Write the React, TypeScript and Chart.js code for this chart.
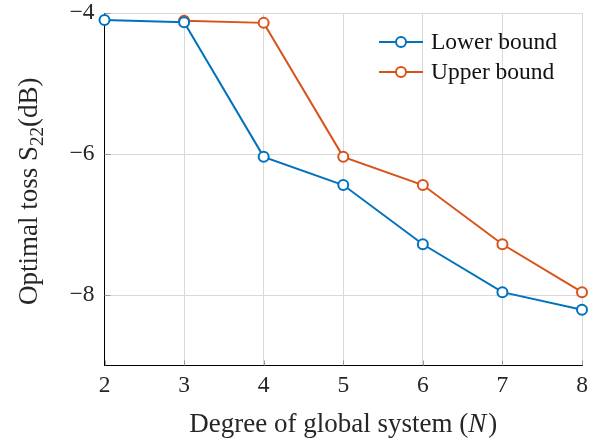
import React, { useEffect, useRef } from "react";
import { Chart, registerables } from "chart.js";

Chart.register(...registerables);

const lowerX = [2, 3, 4, 5, 6, 7, 8];
const lowerY = [-4.1, -4.13, -6.04, -6.44, -7.28, -7.96, -8.21];
const upperX = [3, 4, 5, 6, 7, 8];
const upperY = [-4.11, -4.14, -6.04, -6.44, -7.28, -7.96];
const xTicks = [2, 3, 4, 5, 6, 7, 8];
const yTicks = [-8, -6, -4];
const seriesNames = ["Lower bound", "Upper bound"];
const colors = ["#0072BD", "#D95319"];

const FONT = "'Liberation Serif'";
const TICK_SIZE = 23.5;
const LEGEND_SIZE = 23.5;
const TITLE_SIZE = 27;
const SUB_SIZE = 19;

const overlay = {
  id: "overlay",
  afterDraw(chart: any) {
    const ctx = chart.ctx as CanvasRenderingContext2D;
    const area = chart.chartArea;
    const xs = chart.scales.x;
    const ys = chart.scales.y;
    ctx.save();
    // inward ticks
    ctx.strokeStyle = "#9a9a9a";
    ctx.lineWidth = 1;
    for (const v of xTicks) {
      const px = Math.round(xs.getPixelForValue(v)) + 0.5;
      ctx.beginPath();
      ctx.moveTo(px, area.bottom);
      ctx.lineTo(px, area.bottom - 5);
      ctx.stroke();
    }
    for (const v of yTicks) {
      const py = Math.round(ys.getPixelForValue(v)) + 0.5;
      ctx.beginPath();
      ctx.moveTo(area.left, py);
      ctx.lineTo(area.left + 6, py);
      ctx.stroke();
    }
    // legend
    const lx = 379;
    const lyStart = 42;
    const gap = 30;
    ctx.font = `${LEGEND_SIZE}px ${FONT}`;
    ctx.textBaseline = "middle";
    ctx.textAlign = "left";
    seriesNames.forEach((name, i) => {
      const y = lyStart + i * gap;
      ctx.strokeStyle = colors[i];
      ctx.lineWidth = 2;
      ctx.beginPath();
      ctx.moveTo(lx, y);
      ctx.lineTo(lx + 44, y);
      ctx.stroke();
      ctx.beginPath();
      ctx.fillStyle = "#fff";
      ctx.arc(lx + 22, y, 5, 0, Math.PI * 2);
      ctx.fill();
      ctx.stroke();
      ctx.fillStyle = "#111";
      ctx.fillText(name, lx + 52, y + 1);
    });
    // x title
    ctx.textBaseline = "alphabetic";
    const cx = (area.left + area.right) / 2;
    const part1 = "Degree of global system (";
    const partN = "N";
    const part2 = ")";
    ctx.font = `${TITLE_SIZE}px ${FONT}`;
    const w1 = ctx.measureText(part1).width;
    const w2 = ctx.measureText(part2).width;
    ctx.font = `italic ${TITLE_SIZE}px ${FONT}`;
    const wN = ctx.measureText(partN).width;
    let sx = cx - (w1 + wN + w2 + 2) / 2;
    const by = 432;
    ctx.fillStyle = "#262626";
    ctx.font = `${TITLE_SIZE}px ${FONT}`;
    ctx.fillText(part1, sx, by);
    sx += w1;
    ctx.font = `italic ${TITLE_SIZE}px ${FONT}`;
    ctx.fillText(partN, sx, by);
    sx += wN + 2;
    ctx.font = `${TITLE_SIZE}px ${FONT}`;
    ctx.fillText(part2, sx, by);
    // y title
    const cy = (area.top + area.bottom) / 2 + 2;
    ctx.translate(37, cy);
    ctx.rotate(-Math.PI / 2);
    const t1 = "Optimal toss S";
    const sub = "22";
    const t2 = "(dB)";
    ctx.font = `${TITLE_SIZE}px ${FONT}`;
    const a1 = ctx.measureText(t1).width;
    const a2 = ctx.measureText(t2).width;
    ctx.font = `${SUB_SIZE}px ${FONT}`;
    const as = ctx.measureText(sub).width;
    let tx = -(a1 + as + a2) / 2;
    ctx.font = `${TITLE_SIZE}px ${FONT}`;
    ctx.fillText(t1, tx, 0);
    tx += a1;
    ctx.font = `${SUB_SIZE}px ${FONT}`;
    ctx.fillText(sub, tx, 6);
    tx += as;
    ctx.font = `${TITLE_SIZE}px ${FONT}`;
    ctx.fillText(t2, tx, 0);
    ctx.restore();
  },
};

export default function App() {
  const ref = useRef<HTMLCanvasElement>(null);
  useEffect(() => {
    document.body.style.margin = "0";
    const canvas = ref.current!;
    let chart: any = null;
    let cancelled = false;
    const build = () => {
      if (cancelled) return;
      chart = new Chart(canvas, {
        type: "line",
        data: {
          datasets: [
            {
              label: seriesNames[0],
              data: lowerX.map((x, i) => ({ x, y: lowerY[i] })),
              borderColor: colors[0],
              backgroundColor: "#fff",
              borderWidth: 2,
              pointRadius: 5,
              pointBorderWidth: 2,
              pointBackgroundColor: "#fff",
              pointBorderColor: colors[0],
            },
            {
              label: seriesNames[1],
              data: upperX.map((x, i) => ({ x, y: upperY[i] })),
              borderColor: colors[1],
              backgroundColor: "#fff",
              borderWidth: 2,
              pointRadius: 5,
              pointBorderWidth: 2,
              pointBackgroundColor: "#fff",
              pointBorderColor: colors[1],
            },
          ],
        },
        options: {
          animation: false,
          responsive: false,
          clip: false as any,
          layout: { padding: { left: 0, right: 12, top: 13, bottom: 0 } },
          plugins: { legend: { display: false }, tooltip: { enabled: false } },
          scales: {
            x: {
              type: "linear",
              min: 2,
              max: 8,
              afterBuildTicks: (s: any) => {
                s.ticks = xTicks.map((v) => ({ value: v }));
              },
              afterFit: (s: any) => {
                s.height = 75.5;
                s.paddingLeft = 0;
                s.paddingRight = 0;
              },
              grid: { color: "#d9d9d9", lineWidth: 1, drawTicks: false },
              border: { color: "#000", width: 1 },
              ticks: {
                color: "#262626",
                font: { family: FONT, size: TICK_SIZE },
                padding: 6,
                maxRotation: 0,
              },
            },
            y: {
              type: "linear",
              min: -9,
              max: -4,
              afterBuildTicks: (s: any) => {
                s.ticks = yTicks.map((v) => ({ value: v }));
              },
              afterFit: (s: any) => {
                s.width = 104.5;
                s.paddingTop = 0;
                s.paddingBottom = 0;
              },
              grid: { color: "#d9d9d9", lineWidth: 1, drawTicks: false },
              border: { color: "#000", width: 1 },
              ticks: {
                color: "#262626",
                font: { family: FONT, size: TICK_SIZE },
                padding: 10,
                callback: (v: any) => String(v).replace("-", "\u2212"),
              },
            },
          },
        },
        plugins: [overlay],
      });
    };
    const fonts: any = (document as any).fonts;
    if (fonts && fonts.load) {
      Promise.all([
        fonts.load(`22px ${FONT}`),
        fonts.load(`italic 22px ${FONT}`),
      ]).then(build, build);
    } else build();
    return () => {
      cancelled = true;
      if (chart) chart.destroy();
    };
  }, []);
  return <canvas ref={ref} width={594} height={441} style={{ display: "block", width: 594, height: 441 }} />;
}
